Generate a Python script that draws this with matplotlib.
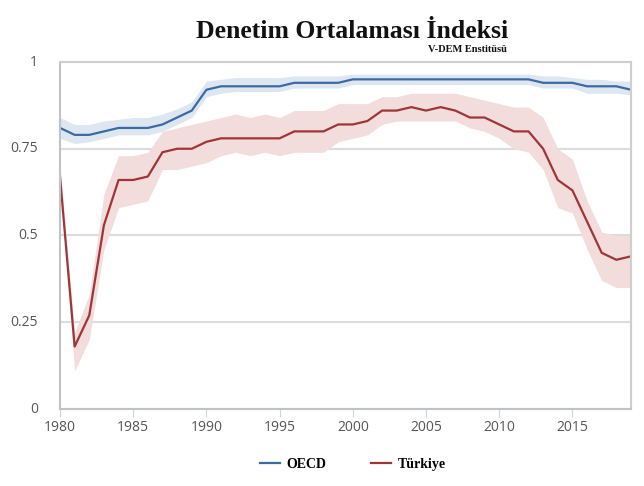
import numpy as np
import matplotlib.pyplot as plt

years = list(range(1980, 2020))

oecd = [0.81, 0.79, 0.79, 0.80, 0.81, 0.81, 0.81, 0.82, 0.84, 0.86,
        0.92, 0.93, 0.93, 0.93, 0.93, 0.93, 0.94, 0.94, 0.94, 0.94,
        0.95, 0.95, 0.95, 0.95, 0.95, 0.95, 0.95, 0.95, 0.95, 0.95,
        0.95, 0.95, 0.95, 0.94, 0.94, 0.94, 0.93, 0.93, 0.93, 0.92]
oecd_low = [0.78, 0.765, 0.77, 0.78, 0.79, 0.79, 0.79, 0.80, 0.82, 0.84,
            0.90, 0.91, 0.915, 0.915, 0.915, 0.915, 0.925, 0.925, 0.925, 0.925,
            0.935, 0.935, 0.935, 0.935, 0.935, 0.935, 0.935, 0.935, 0.935, 0.935,
            0.935, 0.935, 0.935, 0.925, 0.925, 0.925, 0.91, 0.91, 0.91, 0.905]
oecd_high = [0.84, 0.82, 0.82, 0.83, 0.835, 0.84, 0.84, 0.85, 0.865, 0.885,
             0.945, 0.95, 0.955, 0.955, 0.955, 0.955, 0.96, 0.96, 0.96, 0.96,
             0.965, 0.965, 0.965, 0.965, 0.965, 0.965, 0.965, 0.965, 0.965, 0.965,
             0.965, 0.965, 0.965, 0.96, 0.96, 0.955, 0.95, 0.95, 0.945, 0.945]

turkiye = [0.67, 0.18, 0.27, 0.53, 0.66, 0.66, 0.67, 0.74, 0.75, 0.75,
           0.77, 0.78, 0.78, 0.78, 0.78, 0.78, 0.80, 0.80, 0.80, 0.82,
           0.82, 0.83, 0.86, 0.86, 0.87, 0.86, 0.87, 0.86, 0.84, 0.84,
           0.82, 0.80, 0.80, 0.75, 0.66, 0.63, 0.54, 0.45, 0.43, 0.44]
turkiye_low = [0.65, 0.11, 0.20, 0.46, 0.58, 0.59, 0.60, 0.69, 0.69, 0.70,
               0.71, 0.73, 0.74, 0.73, 0.74, 0.73, 0.74, 0.74, 0.74, 0.77,
               0.78, 0.79, 0.82, 0.83, 0.83, 0.83, 0.83, 0.83, 0.81, 0.80,
               0.78, 0.75, 0.74, 0.69, 0.58, 0.565, 0.46, 0.37, 0.35, 0.35]
turkiye_high = [0.70, 0.22, 0.33, 0.62, 0.73, 0.73, 0.74, 0.80, 0.81, 0.82,
                0.83, 0.84, 0.85, 0.84, 0.85, 0.84, 0.86, 0.86, 0.86, 0.88,
                0.88, 0.88, 0.90, 0.90, 0.91, 0.91, 0.91, 0.91, 0.90, 0.89,
                0.88, 0.87, 0.87, 0.84, 0.75, 0.72, 0.60, 0.51, 0.50, 0.50]

y_ticks = [0, 0.25, 0.5, 0.75, 1]
y_labels = ['0', '0.25', '0.5', '0.75', '1']
x_ticks = [1980, 1985, 1990, 1995, 2000, 2005, 2010, 2015]

blue = '#3b6ba5'
red = '#a03538'

fig = plt.figure(figsize=(6.44, 4.86), dpi=100)
ax = fig.add_axes([60 / 644, 1 - 409 / 486, 571 / 644, 347 / 486])

ax.fill_between(years, oecd_low, oecd_high, color='#dde6f1', lw=0)
ax.fill_between(years, turkiye_low, turkiye_high, color='#f2dcdc', lw=0)
ax.plot(years, oecd, color=blue, lw=1.6, label='OECD')
ax.plot(years, turkiye, color=red, lw=1.6, label='Türkiye')

ax.set_xlim(1980, 2019)
ax.set_ylim(0, 1)
ax.set_yticks(y_ticks)
ax.set_yticklabels(y_labels)
ax.set_xticks(x_ticks)
ax.grid(axis='y', color='#dcdcdc', lw=1.5)
ax.set_axisbelow(True)
for s in ax.spines.values():
    s.set_color('#cfcfcf')
    s.set_linewidth(1.5)
ax.spines['left'].set_color('#bfc3c8')
ax.spines['bottom'].set_color('#bfc3c8')
ax.tick_params(axis='y', length=0, pad=16, labelsize=10, labelcolor='#555555')
ax.tick_params(axis='x', length=6, color='#d0d4d8', pad=2, labelsize=10,
               labelcolor='#555555')
for lab in ax.get_xticklabels() + ax.get_yticklabels():
    lab.set_fontfamily('Open Sans')
for lab in ax.get_yticklabels():
    lab.set_verticalalignment('center')

fig.text(352 / 644, 1 - 31 / 486, 'Denetim Ortalaması İndeksi', ha='center', va='center',
         fontsize=18.5, fontweight='bold', family='Liberation Serif', color='#111111')
fig.text(507 / 644, 1 - 49 / 486, 'V-DEM Enstitüsü', ha='right', va='center',
         fontsize=7.5, fontweight='bold', family='Liberation Serif', color='#111111')

leg = fig.legend(loc='center', bbox_to_anchor=(353 / 644, 1 - 464 / 486), ncol=2,
                 frameon=False, handlelength=1.4, handletextpad=0.5, columnspacing=3.2,
                 prop={'family': 'Liberation Serif', 'weight': 'bold', 'size': 10})

fig.savefig('out.png', dpi=100)
